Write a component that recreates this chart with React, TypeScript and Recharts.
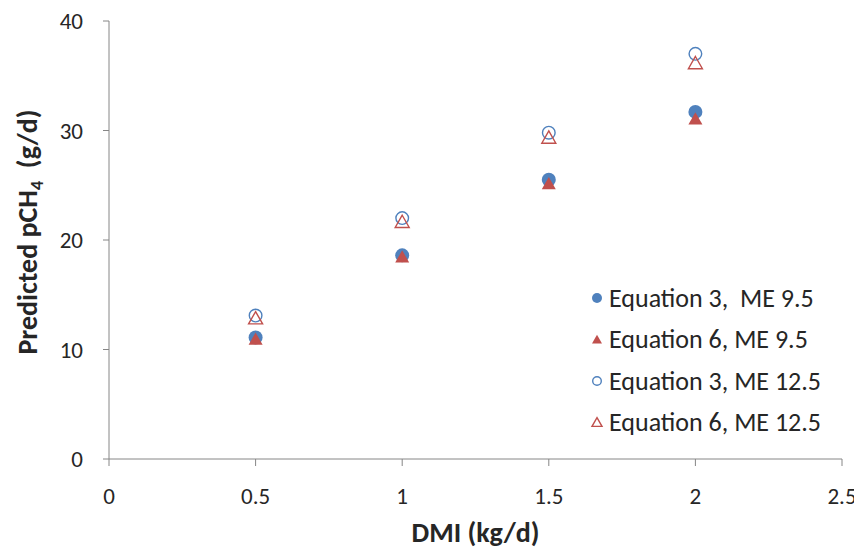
import { ScatterChart, Scatter, XAxis, YAxis } from "recharts";

const dmi = [0.5, 1, 1.5, 2];
const eq3Me95 = [11.1, 18.6, 25.5, 31.7];
const eq6Me95 = [11.0, 18.5, 25.2, 31.1];
const eq3Me125 = [13.1, 22.0, 29.8, 37.0];
const eq6Me125 = [12.9, 21.7, 29.4, 36.2];

const xTicks = [0, 0.5, 1, 1.5, 2, 2.5];
const yTicks = [0, 10, 20, 30, 40];

const BLUE = "#4F81BD";
const RED = "#C0504D";
const FONT = "Carlito, Lato, sans-serif";

const toPoints = (ys: number[]) => dmi.map((x, i) => ({ x, y: ys[i] }));

const series = [
  { name: "Equation 3,  ME 9.5", data: toPoints(eq3Me95), color: BLUE, kind: "circle", filled: true },
  { name: "Equation 6, ME 9.5", data: toPoints(eq6Me95), color: RED, kind: "triangle", filled: true },
  { name: "Equation 3, ME 12.5", data: toPoints(eq3Me125), color: BLUE, kind: "circle", filled: false },
  { name: "Equation 6, ME 12.5", data: toPoints(eq6Me125), color: RED, kind: "triangle", filled: false },
];

function marker(kind: string, color: string, filled: boolean, cx: number, cy: number, r: number) {
  if (kind === "circle") {
    return (
      <circle
        cx={cx}
        cy={cy}
        r={filled ? r : r - 0.7}
        fill={filled ? color : "none"}
        stroke={color}
        strokeWidth={filled ? 0 : 1.4}
      />
    );
  }
  const h = r * 1.75;
  const w = r * 1.0;
  const pts = `${cx},${cy - h / 2} ${cx + w},${cy + h / 2} ${cx - w},${cy + h / 2}`;
  return (
    <polygon
      points={pts}
      fill={filled ? color : "none"}
      stroke={color}
      strokeWidth={filled ? 0 : 1.4}
    />
  );
}

function LegendBox() {
  return (
    <div
      style={{
        position: "absolute",
        left: 582,
        top: 269,
        fontFamily: FONT,
        fontSize: 26,
        color: "#262626",
      }}
    >
      {series.map((s) => (
        <div key={s.name} style={{ display: "flex", alignItems: "center", height: 41.5 }}>
          <svg width={14} height={14} style={{ marginRight: 5 }}>
            {marker(s.kind, s.color, s.filled, 7, 7, 5)}
          </svg>
          <span style={{ whiteSpace: "pre" }}>{s.name}</span>
        </div>
      ))}
    </div>
  );
}

function YTitle(props: any) {
  const vb = props.viewBox || {};
  const cy = vb.y + vb.height / 2 - 8;
  const x = 29;
  return (
    <text
      x={x}
      y={cy}
      transform={`rotate(-90, ${x}, ${cy})`}
      textAnchor="middle"
      fontFamily={FONT}
      fontWeight="bold"
      fontSize={28}
      fill="#262626"
    >
      Predicted pCH
      <tspan fontSize={18} dy={6}>4</tspan>
      <tspan dy={-6}>{"\u00a0 (g/d)"}</tspan>
    </text>
  );
}

export default function App() {
  return (
    <div style={{ position: "relative", width: 854, height: 542 }}>
      <ScatterChart
        width={854}
        height={542}
        margin={{ top: 13, right: 20, bottom: 0, left: 0 }}
        style={{ fontFamily: FONT }}
      >
        <XAxis
          type="number"
          dataKey="x"
          domain={[0, 2.5]}
          ticks={xTicks}
          interval={0}
          height={91}
          stroke="#868686"
          tickSize={7}
          tick={{ fill: "#262626", fontSize: 23, fontFamily: FONT }}
          tickMargin={22}
          label={{
            value: "DMI (kg/d)",
            position: "insideBottom",
            offset: 8,
            style: { fontFamily: FONT, fontWeight: "bold", fontSize: 28, fill: "#262626" },
          }}
        />
        <YAxis
          type="number"
          dataKey="y"
          domain={[0, 40]}
          ticks={yTicks}
          interval={0}
          width={101}
          stroke="#868686"
          tickSize={6}
          tickMargin={20}
          tick={{ fill: "#262626", fontSize: 23, fontFamily: FONT }}
          label={<YTitle />}
        />
        {series.map((s) => (
          <Scatter
            key={s.name}
            name={s.name}
            data={s.data}
            isAnimationActive={false}
            fill={s.color}
            shape={(p: any) => marker(s.kind, s.color, s.filled, p.cx, p.cy, 7)}
          />
        ))}
      </ScatterChart>
      <LegendBox />
    </div>
  );
}
